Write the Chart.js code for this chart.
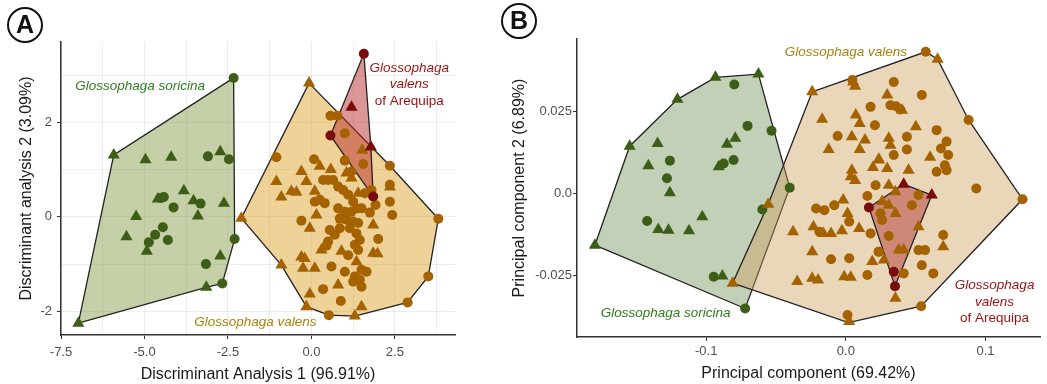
<!DOCTYPE html>
<html>
<head>
<meta charset="utf-8">
<script src="https://cdn.jsdelivr.net/npm/chart.js@4.4.1/dist/chart.umd.min.js"></script>
<style>
  body { margin: 0; background: #fff; }
  #wrap { position: relative; width: 1047px; height: 384px; overflow: hidden; }
  .panel { position: absolute; top: 0; height: 384px; }
</style>
</head>
<body>
<div id="wrap">
  <div class="panel" style="left:0;width:500px"><canvas id="chartA"></canvas></div>
  <div class="panel" style="left:500px;width:547px"><canvas id="chartB"></canvas></div>
</div>
<script>
// ---- Panel A: discriminant analysis ----
const aSoricinaCircles = [[-2.33,2.94],[-3.1,1.28],[-2.47,1.22],[-4.42,0.42],[-4.52,0.4],[-4.13,0.2],[-3.32,0.28],
  [-4.45,-0.22],[-4.68,-0.38],[-4.87,-0.54],[-4.3,-0.49],[-2.3,-0.47],[-3.16,-1.0],[-2.67,-1.41]];
const aSoricinaTriangles = [[-5.92,1.31],[-4.97,1.21],[-4.2,1.26],[-2.73,1.38],[-3.82,0.55],[-4.6,0.38],[-3.53,0.34],
  [-2.62,0.29],[-5.25,0.01],[-3.4,0.02],[-5.54,-0.42],[-4.93,-0.73],[-2.73,-0.83],[-3.15,-1.49],[-6.98,-2.25]];
const aSoricinaHull = [[-2.33,2.94],[-2.3,-0.47],[-2.67,-1.41],[-3.15,-1.49],[-6.98,-2.25],[-5.92,1.31],[-2.33,2.94]];

const aValensCircles = [[-1.05,1.26],[0.08,1.22],[1.0,1.19],[1.2,0.96],[2.35,1.08],[2.35,0.68],
  [0.35,0.78],[0.5,0.78],[0.65,0.78],[0.8,0.64],[0.95,0.57],[1.1,0.47],[1.25,0.32],
  [0.1,0.32],[0.25,0.36],[0.4,0.29],[1.6,0.5],[1.8,0.57],[1.92,0.25],[2.35,0.32],[2.42,0.04],
  [1.75,0.09],[1.5,0.18],[0.8,0.18],[1.0,0.11],[1.2,0.11],[1.35,0.18],
  [0.85,-0.03],[1.05,-0.06],[1.25,-0.1],[1.4,-0.13],[-0.3,-0.08],
  [0.55,-0.28],[0.7,-0.38],[0.85,-0.24],[1.15,-0.24],[1.35,-0.35],[1.45,-0.49],[2.0,-0.47],
  [0.5,-0.52],[0.45,-0.61],[1.3,-0.59],[1.4,-0.7],[1.1,-0.81],[0.6,-1.05],[1.0,-1.16],
  [1.5,-1.12],[1.65,-1.16],[1.3,-1.26],[1.45,-1.33],[1.25,-1.37],[1.5,-1.48],[0.35,-1.53],
  [0.88,-1.78],[2.88,-1.81],[0.52,-2.08],[3.5,-1.26],[3.8,-0.04],
  [0.57,2.14],[0.78,2.14],[1.0,1.77],[1.55,1.12]];
const aValensTriangles = [[1.52,1.41],[-0.3,0.96],[0.25,1.07],[0.58,1.0],[-1.05,0.75],[-0.15,0.75],[1.05,0.93],
  [-0.6,0.54],[-0.45,0.52],[-0.9,0.42],[0.1,0.54],[1.2,0.82],[1.4,0.5],[2.35,0.63],
  [0.15,0.04],[0.9,-0.06],[-0.05,-0.24],[1.85,-0.17],[0.3,-0.7],[0.9,-0.73],[1.85,-0.77],[1.98,-0.78],
  [-0.3,-0.85],[-0.2,-0.88],[-0.9,-1.02],[-0.25,-1.09],[0.1,-1.09],[1.35,-0.95],[0.8,-1.44],
  [-0.05,-1.63],[1.5,-1.9],[-0.15,-1.9],[1.3,-2.1],[-2.1,-0.03],[-0.07,2.83]];
const aValensHull = [[-0.07,2.83],[2.35,1.08],[3.8,-0.04],[3.5,-1.26],[2.88,-1.81],[1.3,-2.1],[0.52,-2.08],
  [-0.15,-1.9],[-0.9,-1.02],[-2.1,-0.03],[-0.07,2.83]];

const aArequipaCircles = [[1.57,3.45],[0.57,1.72],[1.85,0.43]];
const aArequipaTriangles = [[1.2,2.32],[1.78,1.48]];
const aArequipaHull = [[1.57,3.45],[1.78,1.48],[1.85,0.43],[0.57,1.72],[1.57,3.45]];

// ---- Panel B: principal components ----
const bSoricinaCircles = [[-0.0799,0.0331],[-0.0704,0.0205],[-0.0532,0.019],[-0.0402,0.0016],[-0.126,0.0099],
  [-0.1281,0.0045],[-0.1423,-0.0085],[-0.0804,0.0101],[-0.0875,0.009],[-0.0598,-0.005],[-0.0946,-0.0255],[-0.0721,-0.0352]];
const bSoricinaTriangles = [[-0.1797,-0.0159],[-0.1548,0.0143],[-0.1206,0.0286],[-0.0934,0.0353],[-0.0626,0.0363],
  [-0.1348,0.0151],[-0.1414,0.0083],[-0.126,0.0001],[-0.1028,-0.0072],[-0.1343,-0.0111],[-0.127,-0.0113],
  [-0.1123,-0.0115],[-0.0851,0.0149],[-0.0792,0.0167],[-0.091,0.008],[-0.0884,-0.0253]];
const bSoricinaHull = [[-0.1797,-0.0159],[-0.1548,0.0143],[-0.1206,0.0286],[-0.0934,0.0353],[-0.0626,0.0363],
  [-0.0402,0.0016],[-0.0721,-0.0352],[-0.1797,-0.0159]];

const bValensCircles = [[0.0177,0.0263],[0.0208,0.0207],[-0.0059,0.0174],[0.0213,0.0024],[0.0154,-0.0009],
  [-0.0213,-0.0047],[-0.0154,-0.0052],[-0.0083,-0.0037],[0.0024,-0.0087],[0.0177,-0.0123],[-0.0189,-0.0118],
  [-0.0106,-0.0202],[0.0024,-0.0199],[0.0236,-0.0179],[0.0154,-0.025],[0.0012,-0.0372],[0.0047,0.0345],
  [0.0343,0.0339],[0.0544,0.0299],[0.0319,0.0268],[0.0359,0.0265],[0.039,0.0255],[0.0879,0.0223],[0.065,0.0192],
  [0.0437,0.0172],[0.0721,0.0157],[0.0681,0.0136],[0.0733,0.0116],[0.0437,0.0133],[0.0343,0.0116],[0.0709,0.0085],
  [0.065,0.0065],[0.0721,0.007],[0.0934,0.0014],[0.1265,-0.0019],[0.052,-0.0006],[0.0473,-0.0037],[0.0248,-0.0062],
  [0.026,-0.0082],[0.0307,-0.0131],[0.0697,-0.0128],[0.052,-0.0174],[0.0567,-0.0174],[0.0234,-0.0179],
  [0.0544,-0.022],[0.0626,-0.0245],[0.0414,-0.0245],[0.0539,-0.0345],[0.0572,0.0431]];
const bValensTriangles = [[-0.0241,0.0309],[0.0052,0.0339],[0.0066,0.0326],[-0.017,0.0225],[0.0071,0.0238],
  [0.0099,0.0212],[0.0043,0.0172],[0.0137,0.0162],[-0.0123,0.0133],[0.0099,0.0133],[0.0236,0.0103],[0.0194,0.0078],
  [0.0043,0.007],[0.0035,0.005],[0.0066,0.0038],[-0.0556,-0.0034],[-0.0019,-0.0021],[0.0012,-0.0062],
  [-0.0378,-0.0118],[-0.0232,-0.0103],[-0.0161,-0.0123],[-0.0106,-0.0123],[-0.0028,-0.0115],[0.0095,-0.0108],
  [-0.0241,-0.0179],[0.0189,-0.0209],[-0.0348,-0.027],[-0.0241,-0.026],[-0.0199,-0.0265],[-0.0012,-0.0255],
  [0.0035,-0.0257],[0.0024,-0.0392],[-0.0811,-0.0275],
  [0.0296,0.0299],[0.0402,0.0253],[0.0501,0.0202],[0.0307,0.0167],[0.0319,0.0146],[0.0603,0.0109],[0.0236,0.0101],
  [0.0296,0.0075],[0.0449,0.007],[0.0307,0.0024],[0.0355,0.0004],[0.026,-0.0026],[0.0307,-0.0037],[0.0355,-0.0062],
  [0.052,-0.0103],[0.0697,-0.0164],[0.0378,-0.0174],[0.0414,-0.0174],[0.0272,-0.0204],[0.0355,-0.0321],[0.0657,0.0408]];
const bValensHull = [[-0.0241,0.0309],[0.0572,0.0431],[0.0657,0.0408],[0.0879,0.0223],[0.1265,-0.0019],
  [0.0539,-0.0345],[0.0019,-0.0395],[-0.0811,-0.0275],[-0.0556,-0.0034],[-0.0241,0.0309]];

const bArequipaCircles = [[0.0165,-0.0044],[0.0343,-0.024],[0.0352,-0.0284]];
const bArequipaTriangles = [[0.0615,-0.0006],[0.0414,0.0027]];
const bArequipaHull = [[0.0165,-0.0044],[0.0414,0.0027],[0.0615,-0.0006],[0.0352,-0.0284],[0.0165,-0.0044]];

// ---- styling ----
const FONT = '"Liberation Sans", Arial, sans-serif';
Chart.defaults.font.family = FONT;
const GREEN = '#3d5e16', ORANGE = '#a56200', RED = '#7a0b0b';
const GOLD = '#a8820f', LABEL_GREEN = '#2f7a1a', LABEL_RED = '#9b1111';

const toXY = arr => arr.map(p => ({ x: p[0], y: p[1] }));

function points(data, color, style) {
  return {
    data: toXY(data), pointStyle: style, pointRadius: style === 'triangle' ? 7 : 5,
    backgroundColor: color, borderColor: color, borderWidth: 0, showLine: false, order: 0
  };
}
function hull(data, fillColor) {
  return {
    data: toXY(data), showLine: true, fill: 'shape', backgroundColor: fillColor,
    borderColor: '#222', borderWidth: 1.3, pointRadius: 0, tension: 0, order: 1
  };
}

// texts drawn over the plot, placed in data units, and the circled panel letter
const annotate = {
  id: 'annotate',
  afterDraw(chart, args, opts) {
    const { ctx, scales: { x, y } } = chart;
    ctx.save();
    ctx.textBaseline = 'middle';
    for (const t of opts.texts) {
      ctx.font = (t.italic ? 'italic ' : '') + '13.5px ' + FONT;
      ctx.fillStyle = t.color;
      ctx.textAlign = 'center';
      ctx.fillText(t.text, x.getPixelForValue(t.x), y.getPixelForValue(t.y));
    }
    ctx.beginPath();
    ctx.arc(opts.cx, opts.cy, 17, 0, Math.PI * 2);
    ctx.lineWidth = 2;
    ctx.strokeStyle = '#111';
    ctx.stroke();
    ctx.fillStyle = '#111';
    ctx.font = 'bold 25px ' + FONT;
    ctx.textAlign = 'center';
    ctx.fillText(opts.letter, opts.cx, opts.cy + 1);
    ctx.restore();
  }
};

function axis(extra) {
  return Object.assign({
    type: 'linear',
    border: { color: '#333', width: 1.5 }
  }, extra);
}

const tickFont = { size: 13 };
const isMult = (v, m) => Math.abs(v / m - Math.round(v / m)) < 1e-6;

new Chart(document.getElementById('chartA'), {
  type: 'scatter',
  data: {
    datasets: [
      points(aArequipaCircles, RED, 'circle'),
      points(aArequipaTriangles, RED, 'triangle'),
      points(aValensCircles, ORANGE, 'circle'),
      points(aValensTriangles, ORANGE, 'triangle'),
      points(aSoricinaCircles, GREEN, 'circle'),
      points(aSoricinaTriangles, GREEN, 'triangle'),
      hull(aArequipaHull, 'rgba(185,45,45,0.5)'),
      hull(aValensHull, 'rgba(222,166,50,0.5)'),
      hull(aSoricinaHull, 'rgba(139,161,81,0.5)')
    ]
  },
  plugins: [annotate],
  options: {
    responsive: true, maintainAspectRatio: false, animation: false,
    layout: { padding: { left: 13, top: 42, right: 45, bottom: 0 } },
    plugins: {
      legend: { display: false }, tooltip: { enabled: false },
      annotate: {
        letter: 'A', cx: 25, cy: 25,
        texts: [
          { text: 'Glossophaga soricina', x: -5.13, y: 2.77, color: LABEL_GREEN, italic: true },
          { text: 'Glossophaga valens', x: -1.68, y: -2.22, color: GOLD, italic: true },
          { text: 'Glossophaga', x: 2.93, y: 3.15, color: LABEL_RED, italic: true },
          { text: 'valens', x: 2.93, y: 2.8, color: LABEL_RED, italic: true },
          { text: 'of Arequipa', x: 2.93, y: 2.45, color: LABEL_RED, italic: false }
        ]
      }
    },
    scales: {
      x: axis({
        min: -7.5, max: 4.3,
        afterFit: s => { s.height = 49; },
        ticks: { stepSize: 1.25, includeBounds: false, autoSkip: false, maxRotation: 0, padding: 6,
          color: '#4d4d4d', font: tickFont, callback: v => isMult(v, 2.5) ? v.toFixed(1) : '' },
        grid: { color: 'rgba(0,0,0,0.07)', tickLength: 4,
          tickColor: c => (c.tick && isMult(c.tick.value, 2.5)) ? '#333' : 'rgba(0,0,0,0)' },
        title: { display: true, text: 'Discriminant Analysis 1 (96.91%)', color: '#1a1a1a',
          font: { size: 16 }, padding: { top: 0, bottom: 0 } }
      }),
      y: axis({
        min: -2.5, max: 3.7,
        afterFit: s => { s.width = 48; },
        ticks: { stepSize: 1, includeBounds: false, autoSkip: false, padding: 5,
          color: '#4d4d4d', font: tickFont, callback: v => isMult(v, 2) ? String(v) : '' },
        grid: { color: 'rgba(0,0,0,0.07)', tickLength: 4,
          tickColor: c => (c.tick && isMult(c.tick.value, 2)) ? '#333' : 'rgba(0,0,0,0)' },
        title: { display: true, text: 'Discriminant analysis 2 (3.09%)', color: '#1a1a1a',
          font: { size: 16 }, padding: { top: 4, bottom: 0 } }
      })
    }
  }
});

new Chart(document.getElementById('chartB'), {
  type: 'scatter',
  data: {
    datasets: [
      points(bArequipaCircles, RED, 'circle'),
      points(bArequipaTriangles, RED, 'triangle'),
      points(bValensCircles, ORANGE, 'circle'),
      points(bValensTriangles, ORANGE, 'triangle'),
      points(bSoricinaCircles, GREEN, 'circle'),
      points(bSoricinaTriangles, GREEN, 'triangle'),
      hull(bArequipaHull, 'rgba(170,40,40,0.45)'),
      hull(bValensHull, 'rgba(205,160,90,0.42)'),
      hull(bSoricinaHull, 'rgba(120,150,95,0.45)')
    ]
  },
  plugins: [annotate],
  options: {
    responsive: true, maintainAspectRatio: false, animation: false,
    layout: { padding: { left: 6, top: 39, right: 2, bottom: 0 } },
    plugins: {
      legend: { display: false }, tooltip: { enabled: false },
      annotate: {
        letter: 'B', cx: 19, cy: 21,
        texts: [
          { text: 'Glossophaga valens', x: 0.0, y: 0.043, color: GOLD, italic: true },
          { text: 'Glossophaga soricina', x: -0.129, y: -0.0366, color: LABEL_GREEN, italic: true },
          { text: 'Glossophaga', x: 0.1065, y: -0.028, color: LABEL_RED, italic: true },
          { text: 'valens', x: 0.1065, y: -0.0332, color: LABEL_RED, italic: true },
          { text: 'of Arequipa', x: 0.1065, y: -0.0382, color: LABEL_RED, italic: false }
        ]
      }
    },
    scales: {
      x: axis({
        min: -0.1925, max: 0.139,
        afterFit: s => { s.height = 47; },
        ticks: { stepSize: 0.1, includeBounds: false, autoSkip: false, maxRotation: 0, padding: 3,
          color: '#4d4d4d', font: tickFont, callback: v => v.toFixed(1) },
        grid: { color: 'rgba(0,0,0,0)', tickLength: 4, tickColor: '#333' },
        title: { display: true, text: 'Principal component (69.42%)', color: '#1a1a1a',
          font: { size: 16 }, padding: { top: 0, bottom: 1 } }
      }),
      y: axis({
        min: -0.0439, max: 0.047,
        afterFit: s => { s.width = 71; },
        ticks: { stepSize: 0.025, includeBounds: false, autoSkip: false, padding: 1,
          color: '#4d4d4d', font: tickFont, callback: v => Math.abs(v) < 1e-9 ? '0.0' : v.toFixed(3) },
        grid: { color: 'rgba(0,0,0,0)', tickLength: 4, tickColor: '#333' },
        title: { display: true, text: 'Principal component 2 (6.89%)', color: '#1a1a1a',
          font: { size: 16 }, padding: { top: 4, bottom: 0 } }
      })
    }
  }
});
</script>
</body>
</html>
